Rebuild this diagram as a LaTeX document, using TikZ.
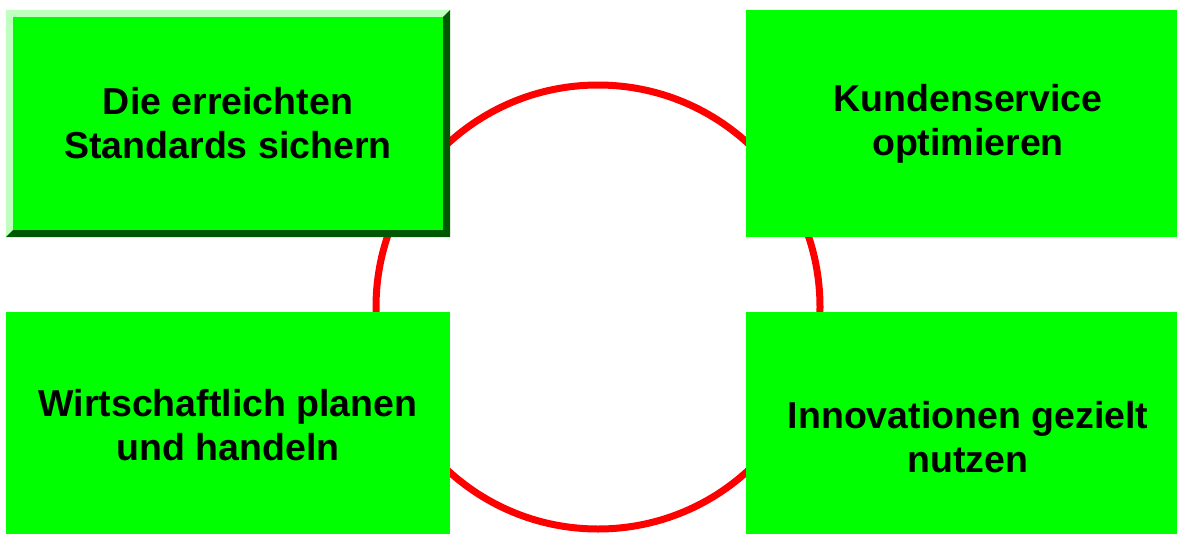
\documentclass[tikz,border=0pt]{standalone}
\usepackage{fontspec}
\setmainfont{Liberation Sans}
\usetikzlibrary{calc}
\definecolor{goalgreen}{RGB}{0,255,0}
\tikzset{
  goal/.style={
    shape = rectangle,
    fill = goalgreen,
    inner sep = 0pt,
    minimum width = 444pt,
    minimum height = 227pt,
    align = center,
    font = \bfseries\fontsize{37.5}{44}\selectfont
  },
  ring/.style={
    draw = red,
    line width = 7pt
  }
}
\begin{document}
\begin{tikzpicture}[x=1pt,y=-1pt]
    \useasboundingbox (0,0) rectangle (1177,533);
    \node[ring, circle, minimum size=444pt, inner sep=0pt] (kreis) at (598,307) {};
    \node[goal] (sichern) at (228,123.5) {Die erreichten\\Standards sichern};
    \node[goal] (kunden) at (968,123.5) {Kundenservice\\optimieren};
    \node[goal] (wirtschaft) at (228,425.5) {Wirtschaftlich planen\\und handeln};
    \node[goal] (innovation) at (968,425.5) {};
    \node[font=\bfseries\fontsize{37.5}{44}\selectfont, align=center] (innotext) at ($(innovation)+(0,12)$) {Innovationen gezielt\\nutzen};
    % bevel of the first box
    \fill[green!25!white] (sichern.north west) -- (sichern.north east) -- ([shift={(-7,7)}]sichern.north east)
        -- ([shift={(7,7)}]sichern.north west) -- ([shift={(7,-7)}]sichern.south west) -- (sichern.south west) -- cycle;
    \fill[black!65!green] (sichern.north east) -- (sichern.south east) -- (sichern.south west)
        -- ([shift={(7,-7)}]sichern.south west) -- ([shift={(-7,-7)}]sichern.south east) -- ([shift={(-7,7)}]sichern.north east) -- cycle;
\end{tikzpicture}
\end{document}
